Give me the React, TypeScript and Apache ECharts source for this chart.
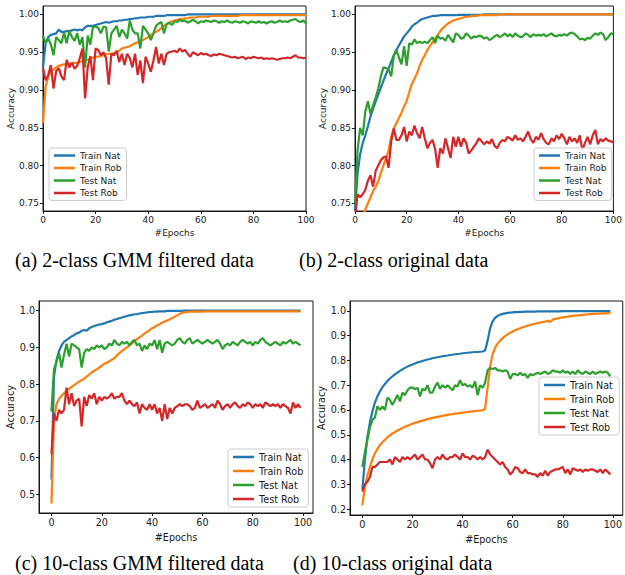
import React, { useEffect, useRef } from "react";
import * as echarts from "echarts";

const seriesNames = ["Train Nat", "Train Rob", "Test Nat", "Test Rob"];
const colors = ["#1f77b4", "#ff7f0e", "#2ca02c", "#d62728"];
const captions = [
  "(a) 2-class GMM filtered data",
  "(b) 2-class original data",
  "(c) 10-class GMM filtered data",
  "(d) 10-class original data",
];
const xTicks = [0, 20, 40, 60, 80, 100];
const yTicksTop = [0.75, 0.8, 0.85, 0.9, 0.95, 1.0];
const yTicksC = [0.5, 0.6, 0.7, 0.8, 0.9, 1.0];
const yTicksD = [0.2, 0.3, 0.4, 0.5, 0.6, 0.7, 0.8, 0.9, 1.0];

// (a) 2-class GMM filtered data, epochs 0..100
const aTrainNat = [
  0.930, 0.962, 0.970, 0.973, 0.974, 0.975, 0.980, 0.977, 0.977, 0.978,
  0.978, 0.979, 0.980, 0.979, 0.980, 0.979, 0.983, 0.985, 0.985, 0.985,
  0.986, 0.987, 0.988, 0.989, 0.990, 0.989, 0.990, 0.991, 0.991, 0.992,
  0.992, 0.993, 0.993, 0.994, 0.994, 0.995, 0.995, 0.996, 0.996, 0.996,
  0.997, 0.997, 0.997, 0.998, 0.998, 0.998, 0.998, 0.999, 0.999, 0.999,
  0.999, 0.999, 0.999, 0.999, 0.999, 1, 1, 1, 1, 1,
  1, 1, 1, 1, 1, 1, 1, 1, 1, 1,
  1, 1, 1, 1, 1, 1, 1, 1, 1, 1,
  1, 1, 1, 1, 1, 1, 1, 1, 1, 1,
  1, 1, 1, 1, 1, 1, 1, 1, 1, 1,
  1,
];
const aTrainRob = [
  0.856, 0.905, 0.918, 0.924, 0.927, 0.930, 0.932, 0.933, 0.934, 0.934,
  0.935, 0.935, 0.936, 0.936, 0.937, 0.938, 0.939, 0.940, 0.941, 0.943,
  0.944, 0.944, 0.945, 0.946, 0.947, 0.948, 0.948, 0.949, 0.950, 0.952,
  0.955, 0.956, 0.957, 0.958, 0.960, 0.962, 0.963, 0.964, 0.966, 0.968,
  0.970, 0.973, 0.975, 0.977, 0.979, 0.982, 0.985, 0.987, 0.989, 0.991,
  0.992, 0.993, 0.994, 0.994, 0.995, 0.995, 0.996, 0.996, 0.996, 0.997,
  0.997, 0.997, 0.997, 0.997, 0.998, 0.998, 0.998, 0.998, 0.998, 0.998,
  0.998, 0.998, 0.998, 0.998, 0.998, 0.999, 0.999, 0.999, 0.999, 0.999,
  0.999, 0.999, 0.999, 0.999, 0.999, 0.999, 0.999, 0.999, 0.999, 0.999,
  0.999, 0.999, 0.999, 0.999, 0.999, 0.999, 0.999, 0.999, 0.999, 0.999,
  0.999,
];
const aTestNat = [
  0.972, 0.962, 0.968, 0.960, 0.946, 0.970, 0.966, 0.962, 0.976, 0.962,
  0.978, 0.970, 0.965, 0.975, 0.960, 0.970, 0.930, 0.972, 0.960, 0.984,
  0.984, 0.982, 0.975, 0.984, 0.983, 0.951, 0.975, 0.980, 0.985, 0.970,
  0.980, 0.975, 0.968, 0.992, 0.980, 0.975, 0.975, 0.955, 0.985, 0.980,
  0.975, 0.966, 0.975, 0.985, 0.988, 0.990, 0.975, 0.987, 0.989, 0.986,
  0.991, 0.990, 0.993, 0.991, 0.992, 0.989, 0.991, 0.993, 0.991, 0.988,
  0.991, 0.990, 0.992, 0.991, 0.990, 0.992, 0.991, 0.989, 0.991, 0.990,
  0.992, 0.990, 0.989, 0.991, 0.990, 0.989, 0.991, 0.990, 0.988, 0.991,
  0.990, 0.989, 0.991, 0.989, 0.990, 0.988, 0.990, 0.991, 0.989, 0.990,
  0.992, 0.990, 0.991, 0.990, 0.992, 0.993, 0.994, 0.991, 0.990, 0.992,
  0.988,
];
const aTestRob = [
  0.929, 0.913, 0.920, 0.933, 0.902, 0.925, 0.929, 0.918, 0.913, 0.940,
  0.930, 0.936, 0.928, 0.932, 0.942, 0.955, 0.889, 0.930, 0.945, 0.913,
  0.955, 0.953, 0.946, 0.950, 0.942, 0.907, 0.948, 0.946, 0.952, 0.937,
  0.948, 0.933, 0.948, 0.942, 0.930, 0.948, 0.920, 0.939, 0.909, 0.944,
  0.935, 0.924, 0.939, 0.957, 0.935, 0.948, 0.933, 0.948, 0.950, 0.951,
  0.952, 0.950, 0.955, 0.951, 0.953, 0.948, 0.944, 0.950, 0.948, 0.946,
  0.949, 0.947, 0.948, 0.946, 0.945, 0.947, 0.946, 0.948, 0.947, 0.946,
  0.945, 0.944, 0.943, 0.944, 0.942, 0.943, 0.944, 0.941, 0.943, 0.942,
  0.944, 0.943, 0.942, 0.943, 0.941, 0.942, 0.941, 0.942, 0.941, 0.940,
  0.941, 0.942, 0.942, 0.943, 0.942, 0.944, 0.946, 0.943, 0.943, 0.942,
  0.943,
];

// (b) 2-class original data, epochs 0..100
const bTrainNat = [
  0.740, 0.790, 0.815, 0.830, 0.840, 0.852, 0.865, 0.875, 0.885, 0.894,
  0.903, 0.912, 0.921, 0.929, 0.937, 0.946, 0.953, 0.959, 0.965, 0.971,
  0.975, 0.979, 0.984, 0.987, 0.989, 0.992, 0.994, 0.995, 0.996, 0.997,
  0.998, 0.998, 0.9985, 0.999, 0.999, 0.999, 0.999, 0.999, 0.999, 0.999,
  0.9995, 0.9995, 0.9995, 0.9995, 0.9995, 0.9995, 0.9995, 0.9995, 0.9995, 0.9995,
  1, 1, 1, 1, 1, 1, 1, 1, 1, 1,
  1, 1, 1, 1, 1, 1, 1, 1, 1, 1,
  1, 1, 1, 1, 1, 1, 1, 1, 1, 1,
  1, 1, 1, 1, 1, 1, 1, 1, 1, 1,
  1, 1, 1, 1, 1, 1, 1, 1, 1, 1,
  1,
];
const bTrainRob = [
  0.700, 0.710, 0.722, 0.733, 0.742, 0.750, 0.758, 0.766, 0.772, 0.779,
  0.790, 0.800, 0.810, 0.820, 0.838, 0.849, 0.856, 0.863, 0.870, 0.878,
  0.886, 0.897, 0.908, 0.915, 0.922, 0.932, 0.940, 0.946, 0.953, 0.958,
  0.963, 0.968, 0.973, 0.978, 0.982, 0.985, 0.988, 0.990, 0.992, 0.993,
  0.994, 0.995, 0.996, 0.997, 0.997, 0.998, 0.998, 0.998, 0.999, 0.999,
  0.999, 0.999, 0.999, 0.999, 0.999, 0.999, 1, 1, 1, 1,
  1, 1, 1, 1, 1, 1, 1, 1, 1, 1,
  1, 1, 1, 1, 1, 1, 1, 1, 1, 1,
  1, 1, 1, 1, 1, 1, 1, 1, 1, 1,
  1, 1, 1, 1, 1, 1, 1, 1, 1, 1,
  1,
];
const bTestNat = [
  0.750, 0.820, 0.850, 0.840, 0.872, 0.885, 0.868, 0.880, 0.890, 0.902,
  0.918, 0.930, 0.929, 0.927, 0.918, 0.945, 0.953, 0.943, 0.934, 0.958,
  0.932, 0.962, 0.960, 0.967, 0.962, 0.964, 0.962, 0.964, 0.962, 0.966,
  0.970, 0.962, 0.972, 0.968, 0.969, 0.965, 0.973, 0.968, 0.963, 0.975,
  0.973, 0.968, 0.969, 0.975, 0.972, 0.968, 0.971, 0.970, 0.972, 0.971,
  0.968, 0.970, 0.966, 0.968, 0.971, 0.973, 0.970, 0.972, 0.975, 0.971,
  0.974, 0.970, 0.975, 0.972, 0.970, 0.971, 0.975, 0.973, 0.970, 0.974,
  0.972, 0.973, 0.972, 0.974, 0.971, 0.973, 0.975, 0.972, 0.971, 0.973,
  0.972, 0.974, 0.972, 0.975, 0.976, 0.974, 0.971, 0.967, 0.968, 0.966,
  0.969, 0.968, 0.972, 0.975, 0.973, 0.976, 0.974, 0.966, 0.970, 0.975,
  0.974,
];
const bTestRob = [
  0.730, 0.762, 0.758, 0.762, 0.768, 0.780, 0.787, 0.772, 0.793, 0.800,
  0.807, 0.811, 0.812, 0.797, 0.832, 0.849, 0.834, 0.834, 0.840, 0.851,
  0.832, 0.845, 0.840, 0.853, 0.843, 0.836, 0.851, 0.836, 0.823, 0.830,
  0.834, 0.822, 0.797, 0.823, 0.816, 0.836, 0.823, 0.810, 0.838, 0.825,
  0.838, 0.825, 0.836, 0.830, 0.816, 0.820, 0.825, 0.830, 0.836, 0.832,
  0.828, 0.832, 0.829, 0.835, 0.826, 0.823, 0.830, 0.834, 0.832, 0.838,
  0.836, 0.833, 0.840, 0.834, 0.836, 0.832, 0.838, 0.845, 0.835, 0.830,
  0.838, 0.834, 0.843, 0.835, 0.830, 0.828, 0.836, 0.832, 0.840, 0.835,
  0.842, 0.836, 0.828, 0.838, 0.832, 0.836, 0.830, 0.840, 0.820, 0.830,
  0.838, 0.828, 0.840, 0.847, 0.828, 0.835, 0.832, 0.836, 0.833, 0.832,
  0.831,
];

// (c) 10-class GMM filtered data, epochs 0..99
const cTrainNat = [
  0.540, 0.820, 0.865, 0.890, 0.905, 0.915, 0.920, 0.925, 0.930, 0.933,
  0.938, 0.940, 0.945, 0.947, 0.945, 0.952, 0.955, 0.958, 0.960, 0.962,
  0.963, 0.965, 0.968, 0.970, 0.972, 0.975, 0.977, 0.979, 0.981, 0.983,
  0.985, 0.987, 0.988, 0.990, 0.990, 0.992, 0.993, 0.994, 0.995, 0.996,
  0.996, 0.997, 0.997, 0.998, 0.998, 0.998, 0.999, 0.999, 0.999, 0.999,
  0.999, 0.999, 0.999, 1, 1, 1, 1, 1, 1, 1,
  1, 1, 1, 1, 1, 1, 1, 1, 1, 1,
  1, 1, 1, 1, 1, 1, 1, 1, 1, 1,
  1, 1, 1, 1, 1, 1, 1, 1, 1, 1,
  1, 1, 1, 1, 1, 1, 1, 1, 1, 1,
];
const cTrainRob = [
  0.475, 0.700, 0.745, 0.760, 0.768, 0.775, 0.782, 0.787, 0.792, 0.797,
  0.802, 0.807, 0.810, 0.815, 0.820, 0.826, 0.832, 0.836, 0.840, 0.845,
  0.850, 0.855, 0.858, 0.862, 0.866, 0.870, 0.878, 0.884, 0.890, 0.895,
  0.900, 0.905, 0.910, 0.917, 0.922, 0.927, 0.932, 0.937, 0.942, 0.947,
  0.952, 0.955, 0.960, 0.963, 0.967, 0.970, 0.973, 0.976, 0.980, 0.983,
  0.987, 0.991, 0.994, 0.995, 0.996, 0.997, 0.997, 0.997, 0.997, 0.997,
  0.997, 0.998, 0.998, 0.998, 0.998, 0.998, 0.998, 0.998, 0.998, 0.998,
  0.998, 0.998, 0.998, 0.998, 0.998, 0.998, 0.998, 0.998, 0.998, 0.998,
  0.998, 0.998, 0.998, 0.998, 0.998, 0.998, 0.998, 0.998, 0.998, 0.998,
  0.998, 0.998, 0.998, 0.998, 0.998, 0.998, 0.998, 0.998, 0.998, 0.998,
];
const cTestNat = [
  0.725, 0.840, 0.860, 0.885, 0.845, 0.880, 0.910, 0.875, 0.910, 0.905,
  0.900, 0.895, 0.845, 0.885, 0.895, 0.890, 0.900, 0.895, 0.905, 0.900,
  0.905, 0.895, 0.900, 0.910, 0.905, 0.920, 0.910, 0.905, 0.915, 0.910,
  0.915, 0.905, 0.915, 0.920, 0.905, 0.910, 0.890, 0.905, 0.895, 0.910,
  0.905, 0.920, 0.895, 0.920, 0.885, 0.910, 0.915, 0.910, 0.905, 0.910,
  0.920, 0.925, 0.915, 0.910, 0.920, 0.925, 0.910, 0.915, 0.920, 0.915,
  0.910, 0.915, 0.920, 0.915, 0.910, 0.915, 0.920, 0.910, 0.895, 0.905,
  0.910, 0.905, 0.915, 0.910, 0.905, 0.915, 0.920, 0.915, 0.910, 0.915,
  0.905, 0.915, 0.910, 0.920, 0.925, 0.915, 0.910, 0.905, 0.910, 0.915,
  0.910, 0.905, 0.915, 0.910, 0.915, 0.920, 0.910, 0.915, 0.910, 0.905,
];
const cTestRob = [
  0.610, 0.720, 0.700, 0.730, 0.720, 0.730, 0.790, 0.745, 0.775, 0.740,
  0.755, 0.760, 0.685, 0.765, 0.740, 0.770, 0.760, 0.775, 0.745, 0.765,
  0.755, 0.765, 0.760, 0.765, 0.775, 0.760, 0.765, 0.765, 0.775, 0.755,
  0.745, 0.755, 0.745, 0.740, 0.750, 0.720, 0.745, 0.735, 0.730, 0.745,
  0.730, 0.745, 0.720, 0.735, 0.700, 0.745, 0.705, 0.735, 0.720, 0.735,
  0.740, 0.745, 0.740, 0.745, 0.745, 0.740, 0.730, 0.735, 0.755, 0.735,
  0.740, 0.745, 0.735, 0.740, 0.745, 0.735, 0.755, 0.745, 0.730, 0.740,
  0.745, 0.735, 0.745, 0.750, 0.740, 0.735, 0.745, 0.740, 0.750, 0.745,
  0.735, 0.745, 0.740, 0.745, 0.735, 0.750, 0.745, 0.740, 0.745, 0.740,
  0.745, 0.735, 0.745, 0.740, 0.735, 0.720, 0.750, 0.735, 0.745, 0.735,
];

// (d) 10-class original data, epochs 0..99
const dTrainNat = [
  0.280, 0.400, 0.490, 0.550, 0.595, 0.630, 0.655, 0.675, 0.692, 0.705,
  0.717, 0.727, 0.736, 0.744, 0.751, 0.758, 0.764, 0.770, 0.775, 0.780,
  0.784, 0.788, 0.792, 0.795, 0.798, 0.801, 0.804, 0.806, 0.809, 0.811,
  0.813, 0.815, 0.817, 0.819, 0.820, 0.822, 0.823, 0.825, 0.826, 0.827,
  0.829, 0.830, 0.831, 0.832, 0.833, 0.834, 0.834, 0.835, 0.836, 0.840,
  0.880, 0.930, 0.958, 0.972, 0.980, 0.985, 0.988, 0.990, 0.992, 0.993,
  0.994, 0.995, 0.995, 0.996, 0.996, 0.997, 0.997, 0.997, 0.997, 0.997,
  0.998, 0.998, 0.998, 0.998, 0.998, 0.998, 0.998, 0.998, 0.998, 0.998,
  0.999, 0.999, 0.999, 0.999, 0.999, 0.999, 0.999, 0.999, 0.999, 0.999,
  0.999, 0.999, 0.999, 0.999, 0.999, 0.999, 0.999, 0.999, 0.999, 0.999,
];
const dTrainRob = [
  0.215, 0.290, 0.335, 0.370, 0.400, 0.425, 0.443, 0.458, 0.470, 0.480,
  0.490, 0.498, 0.505, 0.511, 0.517, 0.522, 0.527, 0.532, 0.536, 0.540,
  0.544, 0.548, 0.551, 0.554, 0.557, 0.560, 0.563, 0.565, 0.568, 0.570,
  0.572, 0.574, 0.576, 0.578, 0.580, 0.582, 0.583, 0.585, 0.586, 0.588,
  0.589, 0.590, 0.592, 0.593, 0.594, 0.595, 0.597, 0.598, 0.599, 0.605,
  0.690, 0.775, 0.825, 0.852, 0.868, 0.880, 0.890, 0.898, 0.905, 0.912,
  0.917, 0.922, 0.926, 0.930, 0.934, 0.937, 0.940, 0.943, 0.946, 0.948,
  0.951, 0.953, 0.955, 0.957, 0.960, 0.955, 0.965, 0.968, 0.970, 0.972,
  0.974, 0.976, 0.977, 0.979, 0.980, 0.981, 0.982, 0.983, 0.984, 0.985,
  0.986, 0.987, 0.988, 0.988, 0.989, 0.989, 0.990, 0.990, 0.991, 0.991,
];
const dTestNat = [
  0.370, 0.430, 0.480, 0.530, 0.560, 0.570, 0.615, 0.600, 0.615, 0.600,
  0.650, 0.640, 0.620, 0.640, 0.660, 0.635, 0.670, 0.660, 0.680, 0.690,
  0.690, 0.685, 0.690, 0.655, 0.685, 0.680, 0.700, 0.670, 0.670, 0.695,
  0.710, 0.685, 0.700, 0.690, 0.700, 0.690, 0.680, 0.700, 0.695, 0.720,
  0.700, 0.705, 0.695, 0.700, 0.690, 0.715, 0.660, 0.700, 0.690, 0.710,
  0.760, 0.770, 0.765, 0.770, 0.760, 0.760, 0.755, 0.760, 0.755, 0.725,
  0.745, 0.745, 0.740, 0.750, 0.740, 0.745, 0.730, 0.745, 0.740, 0.745,
  0.750, 0.745, 0.750, 0.755, 0.745, 0.750, 0.760, 0.755, 0.755, 0.750,
  0.760, 0.750, 0.755, 0.745, 0.755, 0.745, 0.760, 0.750, 0.745, 0.755,
  0.750, 0.745, 0.755, 0.745, 0.750, 0.755, 0.750, 0.755, 0.750, 0.735,
];
const dTestRob = [
  0.270, 0.300, 0.310, 0.330, 0.370, 0.370, 0.380, 0.390, 0.390, 0.390,
  0.390, 0.400, 0.380, 0.410, 0.400, 0.390, 0.410, 0.400, 0.410, 0.400,
  0.410, 0.420, 0.400, 0.410, 0.420, 0.400, 0.400, 0.385, 0.365, 0.400,
  0.410, 0.400, 0.420, 0.405, 0.400, 0.410, 0.410, 0.420, 0.410, 0.400,
  0.425, 0.410, 0.410, 0.400, 0.415, 0.410, 0.400, 0.410, 0.400, 0.410,
  0.440, 0.420, 0.410, 0.400, 0.390, 0.380, 0.390, 0.370, 0.360, 0.340,
  0.350, 0.370, 0.365, 0.350, 0.345, 0.360, 0.345, 0.345, 0.340, 0.340,
  0.330, 0.345, 0.335, 0.355, 0.335, 0.350, 0.355, 0.360, 0.360, 0.365,
  0.370, 0.345, 0.360, 0.340, 0.365, 0.360, 0.355, 0.360, 0.350, 0.360,
  0.355, 0.360, 0.360, 0.355, 0.350, 0.360, 0.345, 0.360, 0.350, 0.340,
];

const panelData = [
  [aTrainNat, aTrainRob, aTestNat, aTestRob],
  [bTrainNat, bTrainRob, bTestNat, bTestRob],
  [cTrainNat, cTrainRob, cTestNat, cTestRob],
  [dTrainNat, dTrainRob, dTestNat, dTestRob],
];

const FONT = "DejaVu Sans";
const INK = "#1a1a1a";

const panels = [
  { grid: { left: 43, top: 6, width: 263, height: 205 }, xMin: 0, xMax: 100, yMin: 0.7398, yMax: 1.0112, yTicks: yTicksTop, dec: 2, fs: 9, legend: { left: 49, top: 148 }, cap: { x: 15, y: 260 } },
  { grid: { left: 355, top: 6, width: 261, height: 205 }, xMin: 0, xMax: 100, yMin: 0.7398, yMax: 1.0112, yTicks: yTicksTop, dec: 2, fs: 9, legend: { left: 534, top: 148 }, cap: { x: 299, y: 260 } },
  { grid: { left: 39, top: 301, width: 274, height: 212 }, xMin: -4.95, xMax: 103.95, yMin: 0.449, yMax: 1.026, yTicks: yTicksC, dec: 1, fs: 9.6, legend: { left: 228, top: 449 }, cap: { x: 15, y: 563 } },
  { grid: { left: 350, top: 301, width: 273, height: 214 }, xMin: -4.95, xMax: 103.95, yMin: 0.176, yMax: 1.040, yTicks: yTicksD, dec: 1, fs: 9.6, legend: { left: 539, top: 377 }, cap: { x: 293, y: 563 } },
];

export default function App() {
  const ref = useRef<HTMLDivElement>(null);
  useEffect(() => {
    if (!ref.current) return;
    const chart = echarts.init(ref.current, undefined, { renderer: "svg" });
    const grid: any[] = [];
    const xAxis: any[] = [];
    const yAxis: any[] = [];
    const series: any[] = [];
    const legend: any[] = [];
    const graphic: any[] = [];
    panels.forEach((p, i) => {
      grid.push({ ...p.grid, show: true, borderColor: INK, borderWidth: 1, backgroundColor: "transparent" });
      xAxis.push({
        type: "value",
        gridIndex: i,
        min: p.xMin,
        max: p.xMax,
        name: "#Epochs",
        nameLocation: "middle",
        nameGap: i < 2 ? 17 : 19,
        nameTextStyle: { fontFamily: FONT, fontSize: p.fs, color: INK },
        axisLine: { show: true, onZero: false, lineStyle: { color: INK, width: 1 } },
        axisTick: { show: true, length: 3, lineStyle: { color: INK }, customValues: xTicks },
        axisLabel: { fontFamily: FONT, fontSize: p.fs, color: INK, margin: 4, customValues: xTicks, formatter: (v: number) => String(Math.round(v)) },
        splitLine: { show: false },
      });
      yAxis.push({
        type: "value",
        gridIndex: i,
        min: p.yMin,
        max: p.yMax,
        name: "Accuracy",
        nameLocation: "middle",
        nameGap: i < 2 ? 26 : 22,
        nameTextStyle: { fontFamily: FONT, fontSize: p.fs, color: INK },
        axisLine: { show: true, onZero: false, lineStyle: { color: INK, width: 1 } },
        axisTick: { show: true, length: 3, lineStyle: { color: INK }, customValues: p.yTicks },
        axisLabel: { fontFamily: FONT, fontSize: p.fs, color: INK, margin: 4, customValues: p.yTicks, formatter: (v: number) => v.toFixed(p.dec) },
        splitLine: { show: false },
      });
      panelData[i].forEach((arr, k) => {
        series.push({
          type: "line",
          name: seriesNames[k],
          xAxisIndex: i,
          yAxisIndex: i,
          data: arr.map((v, e) => [e, v]),
          showSymbol: false,
          symbol: "none",
          clip: true,
          color: colors[k],
          lineStyle: { color: colors[k], width: 2.2 },
        });
      });
      legend.push({
        orient: "vertical",
        left: p.legend.left,
        top: p.legend.top,
        data: seriesNames,
        icon: "rect",
        itemWidth: 21,
        itemHeight: 2.5,
        itemGap: i < 2 ? 3.5 : 4,
        padding: [3, 5, 3, 5],
        backgroundColor: "rgba(255,255,255,0.85)",
        borderColor: "#cccccc",
        borderWidth: 1,
        borderRadius: 3,
        selectedMode: false,
        textStyle: { fontFamily: FONT, fontSize: p.fs, color: INK },
      });
      graphic.push({
        type: "text",
        x: p.cap.x,
        y: p.cap.y,
        style: { text: captions[i], font: '20px "Liberation Serif"', fill: "#000", verticalAlign: "middle", textVerticalAlign: "middle" },
      });
    });
    chart.setOption({ animation: false, backgroundColor: "#fff", grid, xAxis, yAxis, series, legend, graphic });
    return () => chart.dispose();
  }, []);
  return <div ref={ref} style={{ position: "absolute", left: 0, top: 0, width: 625, height: 575 }} />;
}
